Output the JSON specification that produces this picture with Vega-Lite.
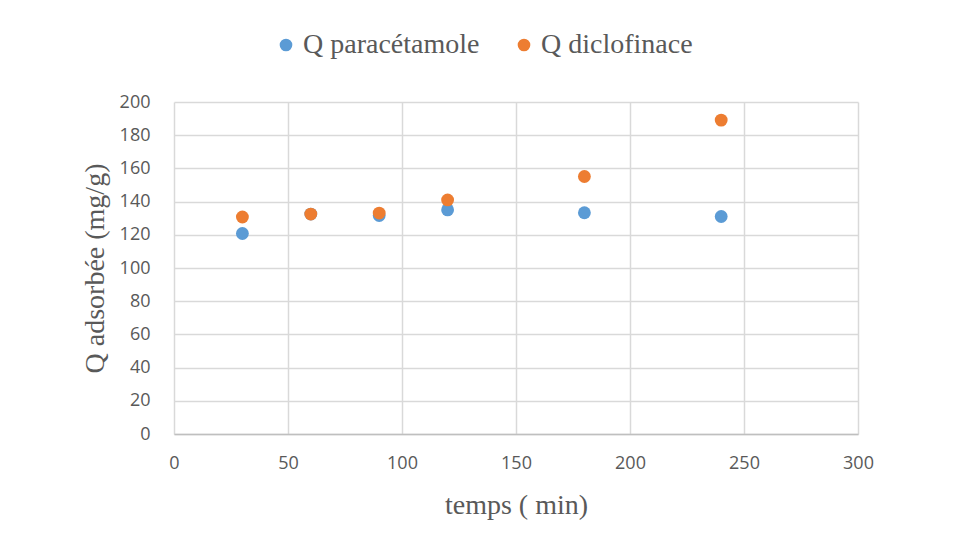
{
  "$schema": "https://vega.github.io/schema/vega-lite/v6.json",
  "width": 684,
  "height": 332,
  "autosize": {"type": "none"},
  "padding": {"left": 174, "top": 102, "right": 99, "bottom": 101},
  "background": "white",
  "config": {"view": {"stroke": null}},
  "data": {
    "values": [
      {"temps": 30, "Q": 120.8, "serie": "Q paracétamole"},
      {"temps": 60, "Q": 132.5, "serie": "Q paracétamole"},
      {"temps": 90, "Q": 131.6, "serie": "Q paracétamole"},
      {"temps": 120, "Q": 135.0, "serie": "Q paracétamole"},
      {"temps": 180, "Q": 133.3, "serie": "Q paracétamole"},
      {"temps": 240, "Q": 131.0, "serie": "Q paracétamole"},
      {"temps": 30, "Q": 130.7, "serie": "Q diclofinace"},
      {"temps": 60, "Q": 132.5, "serie": "Q diclofinace"},
      {"temps": 90, "Q": 133.1, "serie": "Q diclofinace"},
      {"temps": 120, "Q": 141.0, "serie": "Q diclofinace"},
      {"temps": 180, "Q": 155.1, "serie": "Q diclofinace"},
      {"temps": 240, "Q": 189.1, "serie": "Q diclofinace"}
    ]
  },
  "mark": {"type": "circle", "size": 165, "opacity": 1},
  "encoding": {
    "x": {
      "field": "temps", "type": "quantitative",
      "scale": {"domain": [0, 300], "nice": false, "zero": true},
      "axis": {
        "title": "temps ( min)", "values": [0, 50, 100, 150, 200, 250, 300],
        "grid": true, "gridColor": "#d9d9d9", "gridWidth": 1.5,
        "domain": true, "domainColor": "#bfbfbf", "domainWidth": 1.5,
        "ticks": false, "labelPadding": 20, "labelFont": "Open Sans", "labelFontSize": 18,
        "labelColor": "#595959", "labelFlush": false,
        "titleFont": "Liberation Serif", "titleFontSize": 28, "titleFontWeight": "normal",
        "titleColor": "#595959", "titlePadding": 19
      }
    },
    "y": {
      "field": "Q", "type": "quantitative",
      "scale": {"domain": [0, 200], "nice": false},
      "axis": {
        "title": "Q adsorbée (mg/g)", "values": [0, 20, 40, 60, 80, 100, 120, 140, 160, 180, 200],
        "grid": true, "gridColor": "#d9d9d9", "gridWidth": 1.5,
        "domain": false, "ticks": false, "labelPadding": 24,
        "labelFont": "Open Sans", "labelFontSize": 18, "labelColor": "#595959",
        "labelFlush": false,
        "titleFont": "Liberation Serif", "titleFontSize": 28, "titleFontWeight": "normal",
        "titleColor": "#595959", "titlePadding": 10
      }
    },
    "color": {
      "field": "serie", "type": "nominal",
      "scale": {"domain": ["Q paracétamole", "Q diclofinace"], "range": ["#5B9BD5", "#ED7D31"]},
      "legend": {
        "title": null, "orient": "none", "direction": "horizontal",
        "legendX": 98, "legendY": -71,
        "symbolType": "circle", "symbolSize": 160, "symbolOpacity": 1,
        "labelFont": "Liberation Serif", "labelFontSize": 28, "labelColor": "#595959",
        "labelLimit": 0, "labelOffset": 3, "columnPadding": 30, "symbolStrokeWidth": 0
      }
    },
    "order": {"field": "serie", "sort": "descending"}
  }
}
